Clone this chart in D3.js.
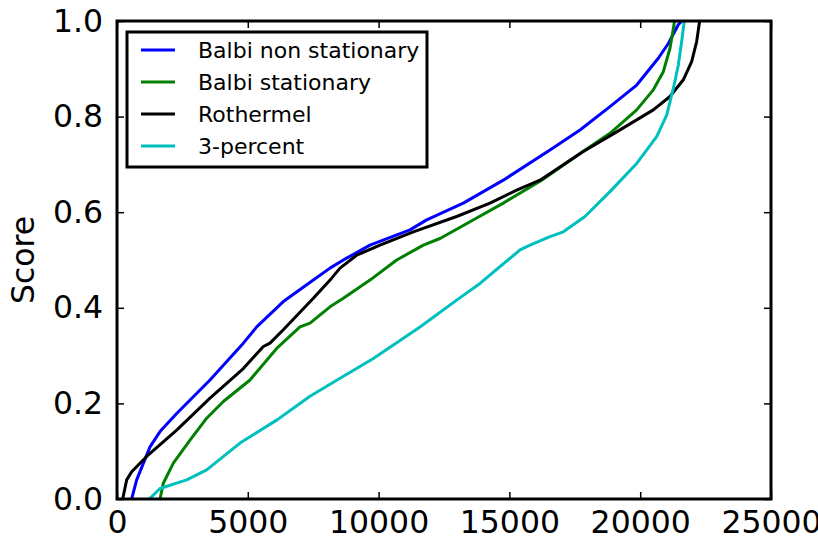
<!DOCTYPE html>
<html>
<head>
<meta charset="utf-8">
<script src="https://cdn.jsdelivr.net/npm/d3@7"></script>
<style>
  body { margin: 0; background: #fff; }
  text { font-family: "DejaVu Sans", sans-serif; }
</style>
</head>
<body>
<div id="container"></div>
<script>
/* CONSTANTS AND GLOBALS */
const width = 818,
  height = 541,
  margin = {top: 21, bottom: 42, left: 117, right: 47};

// data: rank (x) vs score (y)
const balbiNsX = [560, 752, 1261, 1644, 2281, 3555, 4829, 5340, 6358, 7505, 8142, 8780, 9671, 11200, 11838, 13238, 14767, 16552, 17698, 18845, 19866, 20692, 21075, 21456, 21585];
const balbiNsY = [0, 0.04, 0.109, 0.141, 0.179, 0.249, 0.326, 0.36, 0.413, 0.458, 0.483, 0.504, 0.531, 0.563, 0.584, 0.619, 0.667, 0.730, 0.772, 0.821, 0.866, 0.922, 0.953, 0.992, 1.0];

const balbiStX = [1644, 1771, 2153, 2791, 3428, 4065, 5084, 6104, 6995, 7378, 8142, 8652, 9671, 10691, 11710, 12347, 13494, 14767, 16233, 17698, 18845, 19866, 20501, 20884, 21139, 21292, 21310];
const balbiStY = [0, 0.033, 0.075, 0.123, 0.169, 0.204, 0.249, 0.315, 0.360, 0.368, 0.402, 0.420, 0.458, 0.5, 0.531, 0.545, 0.580, 0.619, 0.667, 0.723, 0.765, 0.814, 0.856, 0.894, 0.943, 0.992, 1.0];

const rothX = [218, 370, 561, 1134, 2281, 3555, 4829, 5594, 5849, 6358, 7313, 7505, 8206, 8524, 9162, 10053, 11327, 12984, 14258, 15279, 16169, 17826, 19101, 20501, 21139, 21648, 21967, 22158, 22259, 22275];
const rothY = [0, 0.04, 0.057, 0.089, 0.144, 0.211, 0.273, 0.319, 0.326, 0.354, 0.409, 0.42, 0.462, 0.483, 0.510, 0.531, 0.559, 0.591, 0.619, 0.646, 0.667, 0.727, 0.768, 0.814, 0.842, 0.877, 0.915, 0.957, 0.995, 1.0];

const threePctX = [1236, 1644, 2664, 3428, 4702, 6104, 7378, 8142, 9798, 10563, 11582, 12984, 13876, 15405, 15788, 16552, 17061, 17889, 18845, 19866, 20630, 21012, 21267, 21458, 21585, 21673, 21685];
const threePctY = [0, 0.022, 0.040, 0.061, 0.117, 0.165, 0.215, 0.240, 0.294, 0.322, 0.360, 0.416, 0.451, 0.521, 0.531, 0.549, 0.559, 0.591, 0.643, 0.702, 0.758, 0.803, 0.859, 0.908, 0.957, 0.995, 1.0];

const seriesNames = ["Balbi non stationary", "Balbi stationary", "Rothermel", "3-percent"];
const seriesColors = ["#0000ff", "#008000", "#000000", "#00bfbf"];

const xTicks = [0, 5000, 10000, 15000, 20000, 25000];
const yTicks = [0.0, 0.2, 0.4, 0.6, 0.8, 1.0];

const series = [
  {name: seriesNames[0], color: seriesColors[0], xs: balbiNsX, ys: balbiNsY},
  {name: seriesNames[1], color: seriesColors[1], xs: balbiStX, ys: balbiStY},
  {name: seriesNames[2], color: seriesColors[2], xs: rothX, ys: rothY},
  {name: seriesNames[3], color: seriesColors[3], xs: threePctX, ys: threePctY}
];

/* SCALES */
const xScale = d3.scaleLinear()
  .domain([0, 25000])
  .range([margin.left, width - margin.right]);

const yScale = d3.scaleLinear()
  .domain([0, 1])
  .range([height - margin.bottom, margin.top]);

/* SVG */
const svg = d3.select("#container")
  .append("svg")
  .attr("width", width)
  .attr("height", height);

svg.append("clipPath")
  .attr("id", "plotClip")
  .append("rect")
  .attr("x", margin.left)
  .attr("y", margin.top)
  .attr("width", width - margin.right - margin.left)
  .attr("height", height - margin.bottom - margin.top);

/* LINES */
const line = d3.line()
  .x(d => xScale(d[0]))
  .y(d => yScale(d[1]));

svg.append("g")
  .attr("clip-path", "url(#plotClip)")
  .selectAll("path.series")
  .data(series)
  .join("path")
  .attr("class", "series")
  .attr("fill", "none")
  .attr("stroke", d => d.color)
  .attr("stroke-width", 3)
  .attr("stroke-linejoin", "round")
  .attr("d", d => line(d.xs.map((x, i) => [x, d.ys[i]])));

/* AXES - ticks inside on all four sides, matplotlib classic */
const tickLen = 7;
const fmtY = d3.format(".1f");

const xAxisBottom = d3.axisBottom(xScale).tickValues(xTicks).tickSizeInner(-tickLen).tickSizeOuter(0).tickPadding(12).tickFormat(d3.format("d"));
const xAxisTop = d3.axisTop(xScale).tickValues(xTicks).tickSizeInner(-tickLen).tickSizeOuter(0).tickFormat("");
const yAxisLeft = d3.axisLeft(yScale).tickValues(yTicks).tickSizeInner(-tickLen).tickSizeOuter(0).tickPadding(14).tickFormat(fmtY);
const yAxisRight = d3.axisRight(yScale).tickValues(yTicks).tickSizeInner(-tickLen).tickSizeOuter(0).tickFormat("");

const axes = [
  svg.append("g").attr("transform", `translate(0,${height - margin.bottom})`).call(xAxisBottom),
  svg.append("g").attr("transform", `translate(0,${margin.top})`).call(xAxisTop),
  svg.append("g").attr("transform", `translate(${margin.left},0)`).call(yAxisLeft),
  svg.append("g").attr("transform", `translate(${width - margin.right},0)`).call(yAxisRight)
];

axes.forEach(g => {
  g.select(".domain").remove();
  g.selectAll(".tick line").attr("stroke", "#000").attr("stroke-width", 1.5);
  g.selectAll(".tick text")
    .attr("fill", "#000")
    .style("font-size", "31.5px")
    .style("font-family", "'DejaVu Sans', sans-serif");
});

// frame
svg.append("rect")
  .attr("x", margin.left)
  .attr("y", margin.top)
  .attr("width", width - margin.right - margin.left)
  .attr("height", height - margin.bottom - margin.top)
  .attr("fill", "none")
  .attr("stroke", "#000")
  .attr("stroke-width", 3);

// y label
svg.append("text")
  .attr("transform", `translate(34,${(margin.top + height - margin.bottom) / 2}) rotate(-90)`)
  .attr("text-anchor", "middle")
  .style("font-size", "31.5px")
  .text("Score");

/* LEGEND */
const legend = svg.append("g");

legend.append("rect")
  .attr("x", 127)
  .attr("y", 32)
  .attr("width", 300)
  .attr("height", 135)
  .attr("fill", "#fff")
  .attr("stroke", "#000")
  .attr("stroke-width", 3);

const items = legend.selectAll("g.item")
  .data(series)
  .join("g")
  .attr("class", "item")
  .attr("transform", (d, i) => `translate(0,${50 + i * 32})`);

items.append("line")
  .attr("x1", 141)
  .attr("x2", 175)
  .attr("stroke", d => d.color)
  .attr("stroke-width", 3);

items.append("text")
  .attr("x", 198)
  .attr("y", 7.5)
  .style("font-size", "22px")
  .text(d => d.name);
</script>
</body>
</html>
